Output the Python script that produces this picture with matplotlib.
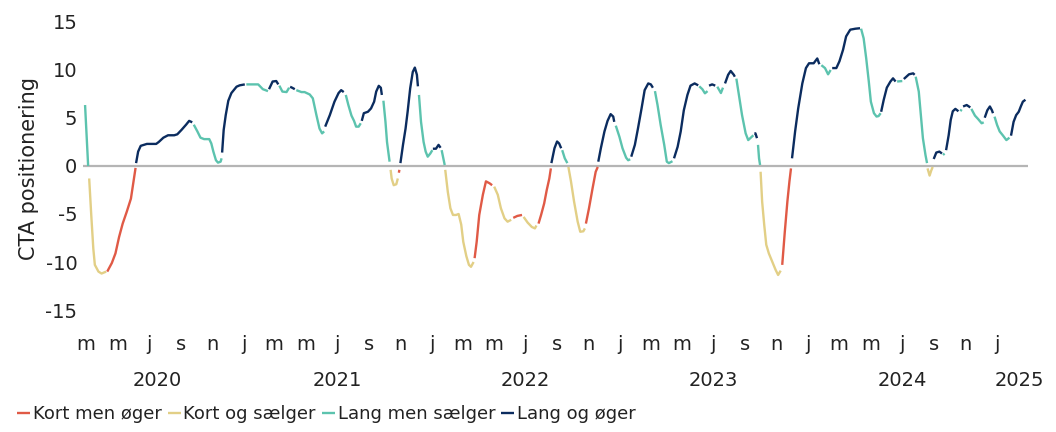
import numpy as np
import pandas as pd
import matplotlib
matplotlib.use("Agg")
import matplotlib.pyplot as plt
import matplotlib.transforms as mtransforms

START = pd.Timestamp("2020-02-28")
X_MIN = pd.Timestamp("2020-02-24")
X_MAX = pd.Timestamp("2025-03-03")

# days after START and CTA positioning
day = [
    0, 6,
    8, 12, 16, 19, 26, 32, 41,
    43, 52, 59, 66, 73, 81, 89, 94, 98,
    99, 103, 108, 120, 129, 138, 143, 152, 161, 173, 179, 187, 196, 202, 208,
    211, 218, 224, 231, 241, 245, 249, 254, 258, 263, 265,
    266, 269, 273, 278, 284, 294, 300, 310,
    313, 336, 345, 355,
    357, 364, 371, 375,
    377, 383, 391, 396,
    398, 402, 407,
    410, 420, 426, 436, 442, 449, 455, 460, 464,
    466, 475, 484, 492, 497, 502,
    506, 511, 517, 522, 526, 531, 535,
    537, 541, 549, 555, 561, 565, 570, 574, 576,
    579, 583, 586, 591,
    593, 595, 599, 604, 607,
    609, 610,
    612, 617, 622, 626, 631, 636, 640, 644, 646,
    648, 652, 657, 661, 665, 670, 674,
    675, 681, 686, 690,
    692, 698,
    699, 704, 709, 714, 720, 725, 730, 734, 740, 745, 749, 754,
    756, 760, 765, 772, 778, 785, 790,
    794, 801, 807, 814, 820, 827,
    831, 839, 848,
    851, 859, 867, 873, 876,
    880, 885, 891, 896, 901, 904,
    905, 911, 916, 920, 924,
    926, 931, 936,
    938, 943, 949, 956, 961, 967, 970,
    972, 978, 985, 991, 995,
    996, 1001, 1008, 1014, 1020, 1025, 1027,
    1030, 1037, 1043, 1050, 1054, 1058,
    1060, 1067, 1073, 1080, 1086, 1093, 1098, 1102,
    1106, 1111, 1117, 1124, 1129, 1133, 1140,
    1143, 1150, 1156, 1162, 1169, 1175, 1183, 1190,
    1192, 1198, 1203, 1208,
    1211, 1217, 1223,
    1227, 1234, 1238,
    1242, 1248, 1253, 1259, 1261,
    1264, 1269, 1275, 1282, 1287, 1294, 1297,
    1299, 1301, 1304,
    1306, 1308, 1310,
    1311, 1314, 1318, 1322, 1327, 1334, 1340, 1345, 1350,
    1353, 1358, 1363, 1367, 1370,
    1372, 1378, 1384, 1392, 1399, 1405, 1414, 1421, 1425,
    1429, 1436, 1442, 1447,
    1450, 1458, 1464, 1471, 1477, 1485, 1495, 1504,
    1506, 1511, 1516, 1521, 1525, 1531, 1536, 1540, 1544,
    1545, 1550, 1556, 1563, 1568, 1573,
    1576, 1586,
    1589, 1599, 1607, 1610,
    1612, 1618, 1622, 1626, 1631, 1634,
    1635, 1639, 1642, 1645,
    1647, 1652, 1658, 1663,
    1665, 1668,
    1671, 1676, 1680, 1684, 1689, 1695,
    1699, 1701,
    1704, 1711, 1718,
    1720, 1727, 1733, 1740, 1744,
    1746, 1751, 1756, 1760, 1762,
    1765, 1770, 1775, 1781, 1788, 1794,
    1797, 1802, 1807, 1812, 1816, 1820, 1825,
]

value = [
    6.35, 0.0,
    -1.3, -5.1, -8.6, -10.3, -11.0, -11.2, -11.0,
    -11.0, -10.1, -9.1, -7.4, -6.0, -4.75, -3.4, -1.6, -0.2,
    0.3, 1.5, 2.1, 2.3, 2.3, 2.3, 2.5, 2.95, 3.2, 3.2, 3.3, 3.75, 4.3, 4.7, 4.55,
    4.3, 3.6, 2.95, 2.8, 2.8, 2.35, 1.5, 0.6, 0.35, 0.45, 0.8,
    1.4, 3.75, 5.3, 6.8, 7.6, 8.26, 8.4, 8.5,
    8.5, 8.5, 8.0, 7.8,
    8.0, 8.8, 8.85, 8.5,
    8.37, 7.75, 7.7, 8.15,
    8.25, 8.15, 8.0,
    7.9, 7.7, 7.7, 7.45, 7.05, 5.3, 3.9, 3.4, 3.6,
    4.1, 5.3, 6.7, 7.6, 7.9, 7.7,
    7.4, 6.35, 5.25, 4.7, 4.1, 4.1, 4.45,
    4.7, 5.5, 5.65, 6.0, 6.7, 7.75, 8.35, 8.15, 7.4,
    6.8, 4.6, 2.5, 0.45,
    -0.4, -1.3, -2.0, -1.9, -1.3,
    -0.7, -0.4,
    0.3, 2.2, 3.9, 5.65, 8.1, 9.8, 10.25, 9.5, 8.3,
    7.4, 4.6, 2.5, 1.5, 0.97, 1.3, 1.65,
    1.8, 1.8, 2.2, 1.9,
    1.65, 0.1,
    -0.4, -2.7, -4.4, -5.1, -5.1, -5.0, -6.1, -7.9, -9.4, -10.3, -10.5, -10.0,
    -9.6, -7.9, -5.1, -3.0, -1.6, -1.8, -2.0,
    -2.15, -3.0, -4.4, -5.45, -5.8, -5.6,
    -5.4, -5.2, -5.1,
    -5.3, -5.9, -6.35, -6.5, -6.2,
    -6.0, -5.1, -3.9, -2.5, -1.3, -0.25,
    0.3, 1.85, 2.55, 2.35, 1.85,
    1.65, 0.8, 0.3,
    -0.1, -1.6, -3.7, -5.8, -6.85, -6.8, -6.5,
    -6.0, -4.4, -2.3, -0.6, -0.1,
    0.45, 1.85, 3.6, 4.7, 5.4, 5.15, 4.6,
    4.2, 3.05, 1.85, 0.87, 0.6, 0.7,
    0.97, 2.2, 3.9, 6.0, 7.9, 8.6, 8.5, 8.15,
    7.8, 6.35, 4.3, 2.2, 0.45, 0.3, 0.5,
    0.8, 2.0, 3.6, 5.8, 7.4, 8.37, 8.6, 8.4,
    8.3, 8.0, 7.57, 7.8,
    8.37, 8.5, 8.37,
    8.26, 7.6, 8.16,
    8.6, 9.5, 9.9, 9.5, 9.3,
    9.1, 7.4, 5.3, 3.4, 2.7, 3.05, 3.2,
    3.4, 3.4, 2.9,
    2.2, 0.8, 0.1,
    -0.6, -3.7, -6.1, -8.2, -9.1, -10.0, -10.8, -11.35, -10.9,
    -10.3, -6.85, -3.7, -1.6, -0.25,
    0.8, 3.6, 6.0, 8.6, 10.2, 10.7, 10.7, 11.2, 10.6,
    10.5, 10.2, 9.55, 10.0,
    10.2, 10.2, 10.9, 12.1, 13.5, 14.2, 14.3, 14.35,
    14.3, 13.3, 11.2, 8.8, 6.7, 5.5, 5.15, 5.2, 5.5,
    5.65, 6.9, 8.16, 8.8, 9.13, 8.8,
    8.8, 8.85,
    9.06, 9.55, 9.65, 9.5,
    9.3, 7.75, 5.3, 2.9, 1.15, 0.3,
    -0.25, -1.0, -0.5, -0.1,
    0.73, 1.4, 1.5, 1.3,
    1.15, 1.3,
    1.65, 3.2, 4.8, 5.7, 5.95, 5.7,
    5.7, 5.9,
    6.2, 6.35, 6.1,
    5.95, 5.25, 4.9, 4.45, 4.55,
    5.03, 5.8, 6.2, 5.8, 5.5,
    5.14, 4.27, 3.6, 3.2, 2.7, 2.95,
    3.16, 4.6, 5.3, 5.65, 6.2, 6.7, 6.9,
]

# regime switches: first day of each run and its regime code
# R = kort men øger, Y = kort og sælger, T = lang men sælger, D = lang og øger
switch_day = [
    0, 8, 43, 99, 211, 266, 313, 357, 377, 398, 410, 466, 506, 537, 579,
    593, 609, 612, 648, 675, 692, 699, 756, 794, 831, 851, 880, 905, 926,
    938, 972, 996, 1030, 1060, 1106, 1143, 1192, 1211, 1227, 1242, 1264,
    1299, 1306, 1311, 1353, 1372, 1429, 1450, 1506, 1545, 1576, 1589, 1612,
    1635, 1647, 1665, 1671, 1699, 1704, 1720, 1746, 1765, 1797,
]
switch_code = list(
    "TYRDTDTDTDTDTDT" "YRDTDT" "YRYRYR" "DTYRDT" "DTDTDTDTDT"
    "YR" "DTDTDTDT" "Y" "DTDTDTDTD"
)

regime_names = ["Kort men øger", "Kort og sælger", "Lang men sælger", "Lang og øger"]
regime_codes = ["R", "Y", "T", "D"]
regime_colors = ["#E05A46", "#E2CF86", "#5CC3AE", "#0B2C5F"]

month_letters = {1: "j", 3: "m", 5: "m", 7: "j", 9: "s", 11: "n"}

plt.rcParams["font.family"] = ["DejaVu Sans"]
text_color = "#222222"

dates = START + pd.to_timedelta(day, unit="D")
vals = np.array(value, dtype=float)
idx = np.searchsorted(switch_day, day, side="right") - 1
point_code = np.array(switch_code)[idx]

fig = plt.figure(figsize=(10.56, 4.32), dpi=100)
ax = fig.add_axes([0.0786, 0.2824, 0.8949, 0.6667])

ax.axhline(0, color="#b5b5b5", lw=1.6, zorder=1)

handles = []
for name, code, color in zip(regime_names, regime_codes, regime_colors):
    y = np.where(point_code == code, vals, np.nan)
    (line,) = ax.plot(dates, y, color=color, lw=1.7, label=name, zorder=2,
                      solid_capstyle="butt")
    handles.append(line)

ax.set_xlim(X_MIN, X_MAX)
ax.set_ylim(-15, 15)
ax.set_yticks(range(-15, 16, 5))
ax.set_yticklabels([str(v) for v in range(-15, 16, 5)])

ticks = pd.date_range("2020-03-01", "2025-01-01", freq="2MS")
ax.set_xticks(ticks)
ax.set_xticklabels([month_letters[t.month] for t in ticks])
ax.tick_params(axis="x", length=0, pad=18, labelsize=14, labelcolor=text_color)
ax.tick_params(axis="y", length=0, pad=4, labelsize=14, labelcolor=text_color)

for s in ax.spines.values():
    s.set_visible(False)

ax.set_ylabel("CTA positionering", fontsize=15, color=text_color)
ax.yaxis.set_label_coords(-0.047, 0.49)

# year labels centred under the months of each year
trans = mtransforms.blended_transform_factory(ax.transData, ax.transAxes)
first_month = START.to_period("M").start_time
last_month = X_MAX.to_period("M").end_time
for yr in range(2020, 2026):
    lo = max(pd.Timestamp(f"{yr}-01-01"), first_month)
    hi = min(pd.Timestamp(f"{yr}-12-31"), last_month)
    mid = lo + (hi - lo) / 2
    ax.text(mid, -0.245, str(yr), transform=trans, ha="center", va="center",
            fontsize=14, color=text_color, clip_on=False)

fig.legend(handles=handles, loc="lower left", bbox_to_anchor=(0.008, 0.0),
           ncol=4, frameon=False, fontsize=13, handlelength=0.7,
           handletextpad=0.15, columnspacing=0.35, borderaxespad=0.1,
           labelcolor=text_color)

fig.savefig("out.png", dpi=100)
plt.close(fig)
